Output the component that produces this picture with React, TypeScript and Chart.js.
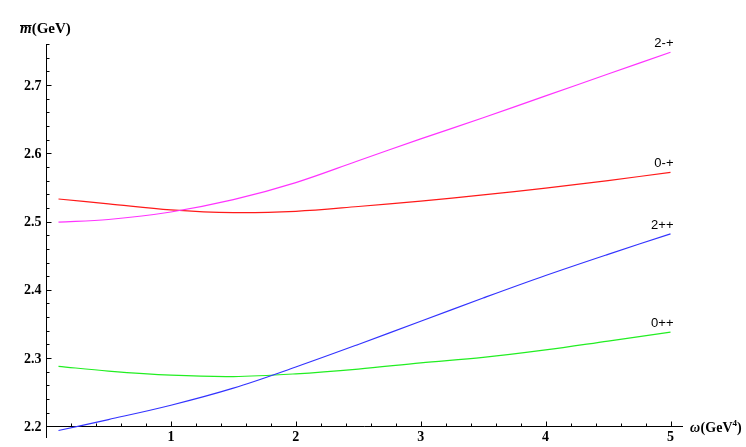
import React, { useEffect, useRef } from "react";
import { Chart, registerables } from "chart.js";

Chart.register(...registerables);

// ω values (GeV^4)
const omega = [0.1, 0.5, 1, 1.5, 2, 2.5, 3, 3.5, 4, 4.5, 5];
// mass curves (GeV)
const m2mp = [2.499, 2.503, 2.514, 2.532, 2.557, 2.589, 2.621, 2.652, 2.684, 2.716, 2.748];
const m0mp = [2.533, 2.526, 2.517, 2.513, 2.515, 2.522, 2.530, 2.539, 2.549, 2.560, 2.572];
const m2pp = [2.194, 2.210, 2.231, 2.256, 2.287, 2.320, 2.354, 2.388, 2.421, 2.452, 2.482];
const m0pp = [2.288, 2.281, 2.275, 2.273, 2.277, 2.284, 2.293, 2.301, 2.312, 2.325, 2.338];
const seriesLabels = ["2-+", "0-+", "2++", "0++"];
const seriesColors = ["#ff33ff", "#ff1a1a", "#3333ff", "#22ee22"];
const xTickLabels = ["1", "2", "3", "4", "5"];
const yTickLabels = ["2.2", "2.3", "2.4", "2.5", "2.6", "2.7"];

const axesPlugin = {
  id: "mmaAxes",
  beforeDatasetsDraw(chart: any) {
    const { ctx } = chart;
    const xs = chart.scales.x;
    const ys = chart.scales.y;
    const x0 = Math.round(xs.getPixelForValue(0)) + 0.5;
    const y0 = Math.round(ys.getPixelForValue(2.2)) + 0.5;
    ctx.save();
    ctx.strokeStyle = "#000";
    ctx.lineWidth = 1;
    ctx.beginPath();
    ctx.moveTo(x0, ys.bottom);
    ctx.lineTo(x0, ys.top);
    ctx.moveTo(x0, y0);
    ctx.lineTo(xs.right, y0);
    // x ticks
    for (let i = 1; i <= 25; i++) {
      const px = Math.round(xs.getPixelForValue(i * 0.2)) + 0.5;
      const len = i % 5 === 0 ? 5 : 3;
      ctx.moveTo(px, y0);
      ctx.lineTo(px, y0 - len);
    }
    // y ticks
    for (let i = 0; i <= 28; i++) {
      const py = Math.round(ys.getPixelForValue(2.2 + i * 0.02)) + 0.5;
      const len = i % 5 === 0 ? 5 : 3;
      ctx.moveTo(x0, py);
      ctx.lineTo(x0 + len, py);
    }
    ctx.stroke();

    ctx.fillStyle = "#000";
    ctx.font = "bold 14px 'Liberation Serif', serif";
    ctx.textAlign = "center";
    ctx.textBaseline = "top";
    xTickLabels.forEach((t) => {
      ctx.fillText(t, xs.getPixelForValue(parseFloat(t)), y0 + 4);
    });
    ctx.textAlign = "right";
    ctx.textBaseline = "middle";
    yTickLabels.forEach((t) => {
      ctx.fillText(t, x0 - 5, ys.getPixelForValue(parseFloat(t)) + 1);
    });

    // y axis title: m̄(GeV)
    ctx.textAlign = "left";
    ctx.textBaseline = "alphabetic";
    ctx.font = "bold italic 15px 'Liberation Serif', serif";
    const mw = ctx.measureText("m").width;
    ctx.fillText("m", 20, 33);
    ctx.beginPath();
    ctx.lineWidth = 1;
    ctx.moveTo(20, 25.5);
    ctx.lineTo(20 + mw, 25.5);
    ctx.stroke();
    ctx.font = "bold 15px 'Liberation Serif', serif";
    ctx.fillText("(GeV)", 20 + mw, 33);

    // x axis title: ω(GeV⁴)
    let tx = xs.right + 7;
    const ty = y0 + 5;
    ctx.font = "bold italic 14px 'Liberation Serif', serif";
    ctx.fillText("ω", tx, ty);
    tx += ctx.measureText("ω").width + 0.5;
    ctx.font = "bold 14px 'Liberation Serif', serif";
    ctx.fillText("(GeV", tx, ty);
    tx += ctx.measureText("(GeV").width;
    ctx.font = "bold 9px 'Liberation Serif', serif";
    ctx.fillText("4", tx, ty - 6);
    tx += ctx.measureText("4").width;
    ctx.font = "bold 14px 'Liberation Serif', serif";
    ctx.fillText(")", tx, ty);
    ctx.restore();
  },
  afterDatasetsDraw(chart: any) {
    const { ctx } = chart;
    ctx.save();
    ctx.fillStyle = "#000";
    ctx.font = "13px 'Liberation Sans', Arial, sans-serif";
    ctx.textAlign = "right";
    ctx.textBaseline = "alphabetic";
    chart.data.datasets.forEach((ds: any, i: number) => {
      const meta = chart.getDatasetMeta(i);
      const pt = meta.data[meta.data.length - 1];
      ctx.fillText(ds.label, pt.x + 3, pt.y - 5);
    });
    ctx.restore();
  },
};

export default function App() {
  const ref = useRef<HTMLCanvasElement>(null);
  useEffect(() => {
    const series = [m2mp, m0mp, m2pp, m0pp];
    const chart = new Chart(ref.current!, {
      type: "line",
      data: {
        datasets: series.map((s, i) => ({
          label: seriesLabels[i],
          data: s.map((v, j) => ({ x: omega[j], y: v })),
          borderColor: seriesColors[i],
          borderWidth: 1.2,
          pointRadius: 0,
          fill: false,
          tension: 0.35,
        })),
      },
      options: {
        responsive: false,
        animation: false,
        layout: { padding: { left: 46, right: 63, top: 44, bottom: 9 } },
        plugins: { legend: { display: false }, tooltip: { enabled: false } },
        scales: {
          x: { type: "linear", min: 0, max: 5.1, display: false },
          y: { type: "linear", min: 2.183, max: 2.76, display: false },
        },
      },
      plugins: [axesPlugin],
    });
    return () => chart.destroy();
  }, []);
  return (
    <div style={{ position: "fixed", left: 0, top: 0, width: 746, height: 447, background: "#fff" }}>
      <canvas ref={ref} width={746} height={447} />
    </div>
  );
}
